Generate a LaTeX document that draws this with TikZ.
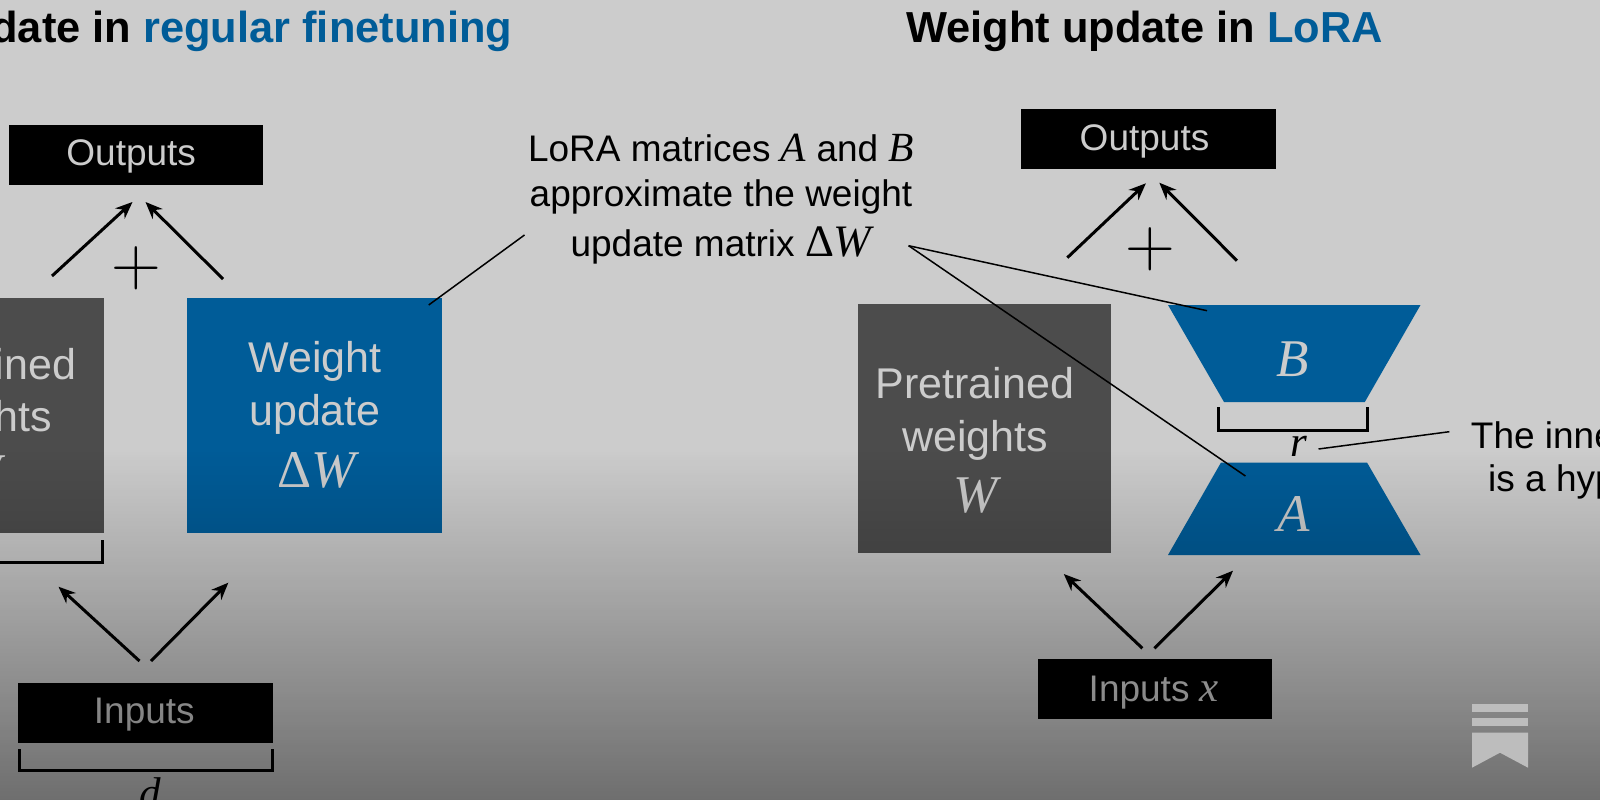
\documentclass[tikz,border=0pt]{standalone}
\usepackage{fontspec}
\newfontfamily\hv{Liberation Sans}
\newfontfamily\ti{Liberation Serif}
\usetikzlibrary{arrows.meta,fadings}
\definecolor{lorablue}{HTML}{0074BE}
\definecolor{weightgray}{HTML}{606060}
\definecolor{iconcol}{HTML}{BDBDBD}
\newcommand{\fs}[1]{\fontsize{#1}{#1}\selectfont}
\newcommand{\mi}[1]{{\ti\itshape #1}}
\newcommand{\capmi}[1]{{\ti\itshape\fs{41.5}#1}}
\newcommand{\setbase}[2]{\raisebox{#1}[0pt][0pt]{#2}}
\tikzfading[name=bottomdark, top color=transparent!100, bottom color=transparent!0]
\tikzset{
  titletext/.style={inner sep=0pt, anchor=base, font=\hv\bfseries\fs{43.4}, text=black},
  captext/.style={inner sep=0pt, anchor=base, font=\hv\fs{37}, text=black},
  boxtext/.style={inner sep=0pt, anchor=base, font=\hv\fs{43}, text=white},
  mathbig/.style={inner sep=0pt, anchor=base, font=\ti\fs{53}, text=white},
  mathsmall/.style={inner sep=0pt, anchor=base, font=\ti\itshape\fs{43}, text=black},
  blackbox/.style={fill=black, inner sep=0pt, font=\hv\fs{37}, text=white},
  bluebox/.style={fill=lorablue, inner sep=0pt},
  graybox/.style={fill=weightgray, inner sep=0pt},
  flowarrow/.style={line width=3pt, draw=black, -{Stealth[length=17pt,width=14pt]}},
  leader/.style={line width=1.5pt, draw=black},
  widthbracket/.style={line width=3pt, draw=black, line join=miter},
  plusmark/.style={inner sep=0pt, font=\fs{69}\addfontfeature{FakeBold=1.4}, text=black},
}
\begin{document}
\begin{tikzpicture}[x=1pt,y=-1pt]
\useasboundingbox (0,0) rectangle (1600,800);
\clip (0,0) rectangle (1600,800);
\fill[white] (0,0) rectangle (1600,800);

% ---------- left panel
\node[titletext, anchor=base east] (titleL) at (512.5,43) {Weight update in \textcolor{lorablue}{regular finetuning}};
\node[blackbox, minimum width=254.5pt, minimum height=60pt] (outL) at (136.2,155) {\setbase{-10pt}{Outputs}\hspace*{10pt}};
\node[graybox, minimum width=255pt, minimum height=235.5pt] (pretL) at (-24,415.7) {};
\node[bluebox, minimum width=255.5pt, minimum height=235.5pt] (updL) at (314.7,415.7) {};
\node[boxtext] (preL1) at (-23,379) {Pretrained};
\node[boxtext] (preL2) at (-21,431) {weights};
\node[mathbig] (preL3) at (-20,490) {\mi{W}};
\node[boxtext] (updL1) at (315,372) {Weight};
\node[boxtext] (updL2) at (315,425) {update};
\node[mathbig] (updL3) at (317,487) {Δ\mi{W}};
\node[plusmark] (plusL) at (136,268) {+};
\node[blackbox, minimum width=254.7pt, minimum height=59.4pt] (inL) at (145.3,713) {\setbase{-10.5pt}{Inputs}\hspace*{2pt}};
\node[mathsmall] (dL) at (150,807) {d};

\coordinate (aL1s) at (52,276);     \coordinate (aL1e) at (132.5,202);
\coordinate (aL2s) at (223,279);    \coordinate (aL2e) at (145.5,202);
\coordinate (aL3s) at (139.5,661);  \coordinate (aL3e) at (58.5,586.7);
\coordinate (aL4s) at (151,661);    \coordinate (aL4e) at (228.3,582.7);
\draw[flowarrow] (aL1s) -- (aL1e);
\draw[flowarrow] (aL2s) -- (aL2e);
\draw[flowarrow] (aL3s) -- (aL3e);
\draw[flowarrow] (aL4s) -- (aL4e);
\draw[widthbracket] (-120,540) |- (102.3,562) -- (102.3,540);
\draw[widthbracket] (19,749.3) |- (272.5,770.7) -- (272.5,749.3);

% ---------- caption
\node[captext] (capA) at (721,161) {LoRA matrices \capmi{A} and \capmi{B}};
\node[captext] (capB) at (721,206) {approximate the weight};
\node[captext] (capC) at (721,256) {update matrix {\ti\fs{45}Δ}{\ti\itshape\fs{45}W}};
\coordinate (capLeadL) at (524.5,235);
\coordinate (capLeadR) at (908.6,245.7);
\coordinate (leadUpd) at (428.7,305);
\coordinate (leadB) at (1207,310.7);
\coordinate (leadA) at (1245.4,476);

% ---------- right panel
\node[titletext, anchor=base west] (titleR) at (906,43) {Weight update in \textcolor{lorablue}{LoRA}};
\node[blackbox, minimum width=255pt, minimum height=60pt] (outR) at (1148.5,139) {\setbase{-11pt}{Outputs}\hspace*{8pt}};
\node[graybox, minimum width=253.2pt, minimum height=249.3pt] (pretR) at (984.4,428.7) {};
\node[boxtext] (preR1) at (975,398) {Pretrained};
\node[boxtext] (preR2) at (975,451) {weights};
\node[mathbig] (preR3) at (976,512) {\mi{W}};
\node[plusmark] (plusR) at (1150,249) {+};

\coordinate (Btl) at (1168,305);   \coordinate (Btr) at (1420.5,305);
\coordinate (Bbr) at (1364.8,402); \coordinate (Bbl) at (1224,402);
\coordinate (Atl) at (1221,462.5); \coordinate (Atr) at (1367,462.5);
\coordinate (Abr) at (1420.5,555); \coordinate (Abl) at (1168,555);
\fill[lorablue] (Btl) -- (Btr) -- (Bbr) -- (Bbl) -- cycle;
\fill[lorablue] (Atl) -- (Atr) -- (Abr) -- (Abl) -- cycle;
\node[mathbig] (labB) at (1292.6,376) {\mi{B}};
\node[mathbig] (labA) at (1293.6,531) {\mi{A}};

\draw[widthbracket] (1218,407.3) |- (1367,430) -- (1367,407.3);
\node[mathsmall] (labr) at (1298.5,456) {r};

\node[captext] (innerA) at (1470.7,448) [anchor=base west] {The inner dimension \mi{r}};
\node[captext] (innerB) at (1488,491.7) [anchor=base west] {is a hyperparameter};
\coordinate (leadrS) at (1318.5,449);
\coordinate (leadrE) at (1449.4,431.7);

\node[blackbox, minimum width=233.7pt, minimum height=60.3pt] (inR) at (1154.8,689.2) {\setbase{-12.5pt}{Inputs {\ti\itshape\fs{43}x}}\hspace*{2pt}};

\coordinate (aR1s) at (1067.3,257.7); \coordinate (aR1e) at (1145.9,183.3);
\coordinate (aR2s) at (1237,260.7);   \coordinate (aR2e) at (1159.3,182.7);
\coordinate (aR3s) at (1142.4,648.3); \coordinate (aR3e) at (1063.8,574);
\coordinate (aR4s) at (1154.3,648.3); \coordinate (aR4e) at (1233,570.7);
\draw[flowarrow] (aR1s) -- (aR1e);
\draw[flowarrow] (aR2s) -- (aR2e);
\draw[flowarrow] (aR3s) -- (aR3e);
\draw[flowarrow] (aR4s) -- (aR4e);

% ---------- leader lines
\draw[leader] (capLeadL) -- (leadUpd);
\draw[leader] (capLeadR) -- (leadB);
\draw[leader] (capLeadR) -- (leadA);
\draw[leader] (leadrS) -- (leadrE);

% ---------- dim overlay
\fill[black, opacity=0.2] (0,0) rectangle (1600,800);
\fill[black, fill opacity=0.46, path fading=bottomdark, fit fading=true] (-60,450) rectangle (1660,800);

% ---------- bookmark icon
\fill[iconcol] (1472,704) rectangle (1528,711.7);
\fill[iconcol] (1472,718.3) rectangle (1528,726);
\fill[iconcol] (1472,732.7) -- (1528,732.7) -- (1528,767.7) -- (1500,752.7) -- (1472,767.7) -- cycle;
\end{tikzpicture}
\end{document}
